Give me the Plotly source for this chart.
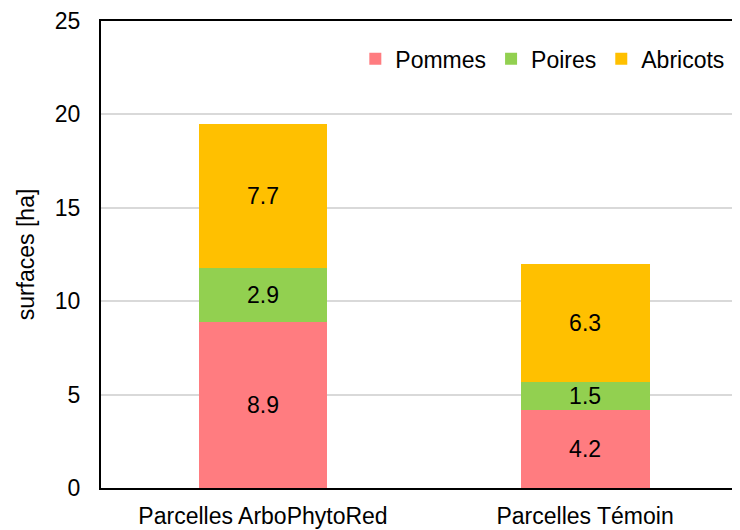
import plotly.graph_objects as go

# === Data ===
categories = ["Parcelles ArboPhytoRed", "Parcelles Témoin"]
pommes = [8.9, 4.2]
poires = [2.9, 1.5]
abricots = [7.7, 6.3]

series = [
    ("Pommes", pommes, "#FF7C80"),
    ("Poires", poires, "#92D050"),
    ("Abricots", abricots, "#FFC000"),
]

font_family = "Liberation Sans, Arial, sans-serif"
fs = 23

fig = go.Figure()
for name, vals, color in series:
    fig.add_trace(go.Bar(
        x=categories, y=vals, name=name,
        marker=dict(color=color, line=dict(width=0)),
        width=0.4,
        text=[f"{v:.1f}" for v in vals],
        textposition="inside", insidetextanchor="middle",
        constraintext="none",
        textfont=dict(color="black", size=fs, family=font_family),
    ))

# page body has an 8px margin, so the figure is shrunk to fit the window
fig.update_layout(
    barmode="stack",
    width=732, height=522,
    margin=dict(l=93, r=0, t=13, b=42),
    plot_bgcolor="white", paper_bgcolor="white",
    font=dict(family=font_family, size=fs, color="black"),
    legend=dict(
        orientation="h", x=0.398, xanchor="left", y=0.965, yanchor="top",
        font=dict(size=fs), bgcolor="rgba(0,0,0,0)",
        traceorder="normal", itemwidth=30,
    ),
    xaxis=dict(
        range=[-0.503, 1.481],
        showline=True, linecolor="black", linewidth=2, mirror=True,
        ticks="", showgrid=False, ticklabelstandoff=6,
        tickfont=dict(size=fs),
    ),
    yaxis=dict(
        range=[0, 25], dtick=5,
        showline=True, linecolor="black", linewidth=2,
        showgrid=True, gridcolor="#D9D9D9", gridwidth=1.5,
        zeroline=False, ticks="", ticklabelstandoff=14,
        title=dict(text="surfaces [ha]", font=dict(size=fs), standoff=14),
        tickfont=dict(size=fs),
    ),
)

fig.write_html("out.html")
